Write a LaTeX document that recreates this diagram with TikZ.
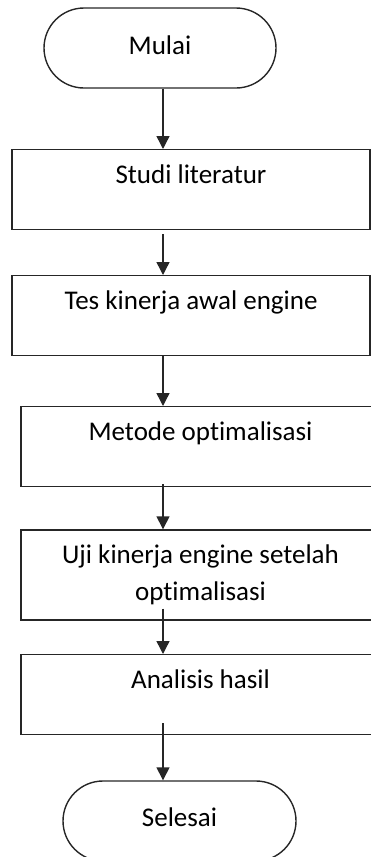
\documentclass[tikz,border=0pt]{standalone}
\usepackage{fontspec}
\setmainfont{Carlito}[Ligatures=NoCommon]
\usepackage{tikz}
\usetikzlibrary{shapes,arrows,arrows.meta}

\tikzset{
  stepbox/.style={draw=black!85, line width=1.4pt, rectangle, inner sep=0pt,
    text height=34pt, text depth=46pt, anchor=north,
    font=\fontsize{27}{36}\selectfont},
  terminal/.style={draw=black!85, line width=1.4pt, rounded rectangle,
    minimum width=232pt, minimum height=80pt, inner sep=0pt,
    font=\fontsize{27}{36}\selectfont},
  flow/.style={-{Triangle[width=13pt,length=13pt]}, line width=1.4pt, draw=black!85}
}

\begin{document}
\begin{tikzpicture}[x=1pt,y=-1pt]

    \useasboundingbox (0,0) rectangle (371,857);
    \clip (0,0) rectangle (371,857);

    % start
    \node[terminal] (mulai) at (160,48) {\raisebox{5pt}{Mulai}};

    % steps
    \node[stepbox, minimum width=358pt] (studi) at (191,149) {Studi literatur};
    \node[stepbox, minimum width=358pt] (tes) at (191,275) {Tes kinerja awal engine};
    \node[stepbox, minimum width=359pt] (metode) at (200.5,406) {Metode optimalisasi};
    \node[draw=black!85, line width=1.4pt, rectangle, minimum width=359pt,
      minimum height=90pt, align=center, font=\fontsize{27}{37}\selectfont]
      (uji) at (200.5,575) {Uji kinerja engine setelah\\optimalisasi};
    \node[stepbox, minimum width=359pt] (analisis) at (200.5,654) {Analisis hasil};

    % end
    \node[terminal, minimum width=233pt] (selesai) at (179.5,821) {\raisebox{7pt}{Selesai}};

    % arrows
    \coordinate (axis) at (163,0);
    \draw[flow] (mulai.south -| axis) -- (studi.north -| axis);
    \draw[flow] ([yshift=-4pt]studi.south -| axis) -- (tes.north -| axis);
    \draw[flow] (tes.south -| axis) -- (metode.north -| axis);
    \draw[flow] ([yshift=3pt]metode.south -| axis) -- (uji.north -| axis);
    \draw[flow] ([yshift=12pt]uji.south -| axis) -- (analisis.north -| axis);
    \draw[flow] ([yshift=12pt]analisis.south -| axis) -- (selesai.north -| axis);

  \end{tikzpicture}
\end{document}
